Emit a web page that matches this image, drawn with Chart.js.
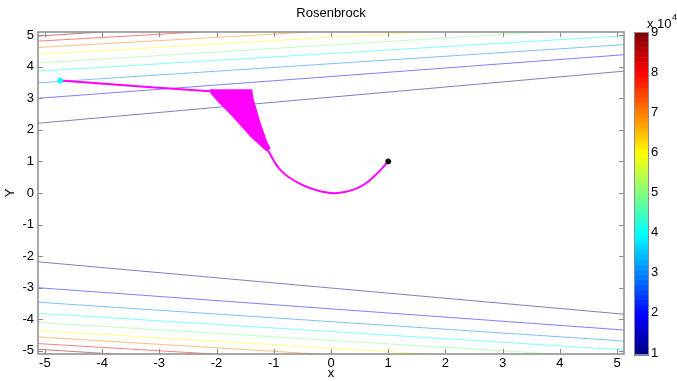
<!DOCTYPE html>
<html>
<head>
<meta charset="utf-8">
<title>Rosenbrock</title>
<script src="https://cdn.jsdelivr.net/npm/chart.js@4.4.0/dist/chart.umd.min.js"></script>
<style>
  html, body { margin: 0; padding: 0; background: #fff; }
  #wrap { position: relative; width: 677px; height: 381px; }
</style>
</head>
<body>
<div id="wrap"><canvas id="chart" width="677" height="381"></canvas></div>
<script>
// Axis limits and tick labels
const xRange = [-5.12, 5.12];
const yRange = [-5.1, 5.1];
const xTicks = [-5, -4, -3, -2, -1, 0, 1, 2, 3, 4, 5];
const yTicks = [-5, -4, -3, -2, -1, 0, 1, 2, 3, 4, 5];
const colorbarTicks = [1, 2, 3, 4, 5, 6, 7, 8, 9];
const colorbarRange = [1, 9];

// Contour levels (x 10^4), each has a line above and below the valley
const contourLevels = [1, 2, 3, 4, 5, 6, 7, 8, 9];
const upperContours = [
  [[-5.12, 2.21], [5.12, 3.86]],
  [[-5.12, 3.00], [5.12, 4.38]],
  [[-5.12, 3.49], [5.12, 4.70]],
  [[-5.12, 3.86], [5.12, 4.98]],
  [[-5.12, 4.12], [3.70, 5.10]],
  [[-5.12, 4.39], [1.60, 5.10]],
  [[-5.12, 4.61], [-0.35, 5.10]],
  [[-5.12, 4.81], [-2.30, 5.10]],
  [[-5.12, 4.97], [-4.00, 5.10]],
];
const lowerContours = [
  [[-5.12, -2.18], [5.12, -3.84]],
  [[-5.12, -3.00], [5.12, -4.34]],
  [[-5.12, -3.46], [5.12, -4.69]],
  [[-5.12, -3.81], [5.12, -4.97]],
  [[-5.12, -4.10], [3.90, -5.10]],
  [[-5.12, -4.36], [1.70, -5.10]],
  [[-5.12, -4.56], [-0.23, -5.10]],
  [[-5.12, -4.77], [-2.05, -5.10]],
  [[-5.12, -4.95], [-3.80, -5.10]],
];

// Optimiser path
const startPoint = [[-4.73, 3.56]];
const minimumPoint = [[1, 1]];
const pathStart = [[-4.73, 3.56], [-3.2, 3.36], [-2.12, 3.22]];
const zigzagRegion = [
  [-2.12, 3.26], [-1.39, 3.26], [-1.36, 2.95], [-1.25, 2.26], [-1.13, 1.63],
  [-1.07, 1.42], [-1.13, 1.35], [-1.40, 1.80], [-1.72, 2.45], [-1.97, 2.91],
  [-2.09, 3.16], [-2.12, 3.26],
];
const pathEnd = [
  [-1.12, 1.40], [-0.87, 0.70], [-0.52, 0.27], [-0.17, 0.05], [0.12, 0.0],
  [0.47, 0.16], [0.75, 0.52], [1.0, 1.0],
];

// Jet colormap
function jet(t) {
  const c = v => Math.round(255 * Math.max(0, Math.min(1, v)));
  return [c(1.5 - Math.abs(4 * t - 3)), c(1.5 - Math.abs(4 * t - 2)), c(1.5 - Math.abs(4 * t - 1))];
}
function levelColor(level, alpha) {
  const t = (level - colorbarRange[0]) / (colorbarRange[1] - colorbarRange[0]);
  const [r, g, b] = jet(t);
  return `rgba(${r}, ${g}, ${b}, ${alpha})`;
}

const toPts = arr => arr.map(([x, y]) => ({ x, y }));
const axisColor = '#8c8c8c';
const fontFamily = '"Liberation Sans", Arial, sans-serif';
const fontSize = 13;

const datasets = [];
datasets.push({
  data: toPts(minimumPoint), backgroundColor: '#000', borderColor: '#000',
  pointRadius: 2.5, order: 0,
});
datasets.push({
  data: toPts(startPoint), backgroundColor: '#00ffff', borderColor: '#00ffff',
  pointRadius: 2.5, order: 0,
});
datasets.push({
  data: toPts(pathStart), showLine: true, borderColor: '#ff00ff', borderWidth: 2,
  pointRadius: 0, order: 1,
});
datasets.push({
  data: toPts(zigzagRegion), showLine: true, borderColor: '#ff00ff', borderWidth: 1.5,
  backgroundColor: '#ff00ff', fill: 'shape', pointRadius: 0, order: 1,
});
datasets.push({
  data: toPts(pathEnd), showLine: true, borderColor: '#ff00ff', borderWidth: 2,
  tension: 0.4, pointRadius: 0, order: 1,
});
contourLevels.forEach((level, i) => {
  [upperContours[i], lowerContours[i]].forEach(line => {
    datasets.push({
      data: toPts(line), showLine: true, borderColor: levelColor(level, 0.5),
      borderWidth: 1, pointRadius: 0, order: 2,
    });
  });
});

// Box, inward ticks, title and colorbar
const matlabDecor = {
  id: 'matlabDecor',
  afterDraw(chart) {
    const { ctx, chartArea: a, scales } = chart;
    ctx.save();
    ctx.strokeStyle = axisColor;
    ctx.lineWidth = 1.5;
    ctx.strokeRect(a.left, a.top, a.right - a.left, a.bottom - a.top);
    ctx.lineWidth = 1;
    ctx.beginPath();
    xTicks.forEach(v => {
      const px = Math.round(scales.x.getPixelForValue(v)) + 0.5;
      ctx.moveTo(px, a.bottom); ctx.lineTo(px, a.bottom - 5);
      ctx.moveTo(px, a.top); ctx.lineTo(px, a.top + 5);
    });
    yTicks.forEach(v => {
      const py = Math.round(scales.y.getPixelForValue(v)) + 0.5;
      ctx.moveTo(a.left, py); ctx.lineTo(a.left + 5, py);
      ctx.moveTo(a.right, py); ctx.lineTo(a.right - 5, py);
    });
    ctx.stroke();

    // title
    ctx.fillStyle = '#000';
    ctx.font = fontSize + 'px ' + fontFamily;
    ctx.textAlign = 'center';
    ctx.textBaseline = 'middle';
    ctx.fillText('Rosenbrock', (a.left + a.right) / 2, 13);

    // colorbar
    const cbLeft = 634, cbRight = 649, cbTop = a.top, cbBottom = a.bottom + 1;
    const steps = 64;
    const h = (cbBottom - cbTop) / steps;
    for (let i = 0; i < steps; i++) {
      const [r, g, b] = jet((i + 0.5) / steps);
      ctx.fillStyle = `rgb(${r}, ${g}, ${b})`;
      ctx.fillRect(cbLeft, cbBottom - (i + 1) * h, cbRight - cbLeft, h + 0.5);
    }
    ctx.strokeStyle = axisColor;
    ctx.lineWidth = 1;
    ctx.strokeRect(cbLeft + 0.5, cbTop + 0.5, cbRight - cbLeft - 1, cbBottom - cbTop - 1);
    ctx.fillStyle = '#000';
    ctx.textAlign = 'left';
    ctx.font = fontSize + 'px ' + fontFamily;
    colorbarTicks.forEach(v => {
      const t = (v - colorbarRange[0]) / (colorbarRange[1] - colorbarRange[0]);
      const py = cbBottom - 2 - t * (cbBottom - cbTop - 2);
      ctx.fillText(String(v), 651, py);
    });
    ctx.fillText('x 10', 647, 24);
    ctx.font = '9px ' + fontFamily;
    ctx.fillText('4', 672, 18);
    ctx.restore();
  },
};

new Chart(document.getElementById('chart'), {
  type: 'scatter',
  data: { datasets },
  plugins: [matlabDecor],
  options: {
    responsive: false,
    animation: false,
    events: [],
    layout: { padding: { left: 3, right: 53, top: 32, bottom: 0 } },
    plugins: { legend: { display: false }, tooltip: { enabled: false } },
    scales: {
      x: {
        type: 'linear',
        min: xRange[0], max: xRange[1],
        afterBuildTicks: s => { s.ticks = xTicks.map(v => ({ value: v })); },
        afterFit: s => { s.height = 27; },
        grid: { display: false, drawTicks: false },
        border: { display: false },
        ticks: { color: '#000', font: { family: fontFamily, size: fontSize }, padding: 2, maxRotation: 0 },
        title: { display: true, text: 'x', color: '#000', font: { family: fontFamily, size: fontSize }, padding: 0 },
      },
      y: {
        type: 'linear',
        min: yRange[0], max: yRange[1],
        afterBuildTicks: s => { s.ticks = yTicks.map(v => ({ value: v })); },
        afterFit: s => { s.width = 35; },
        grid: { display: false, drawTicks: false },
        border: { display: false },
        ticks: { color: '#000', font: { family: fontFamily, size: fontSize }, padding: 4 },
        title: { display: true, text: 'Y', color: '#000', font: { family: fontFamily, size: fontSize }, padding: 0 },
      },
    },
  },
});
</script>
</body>
</html>
